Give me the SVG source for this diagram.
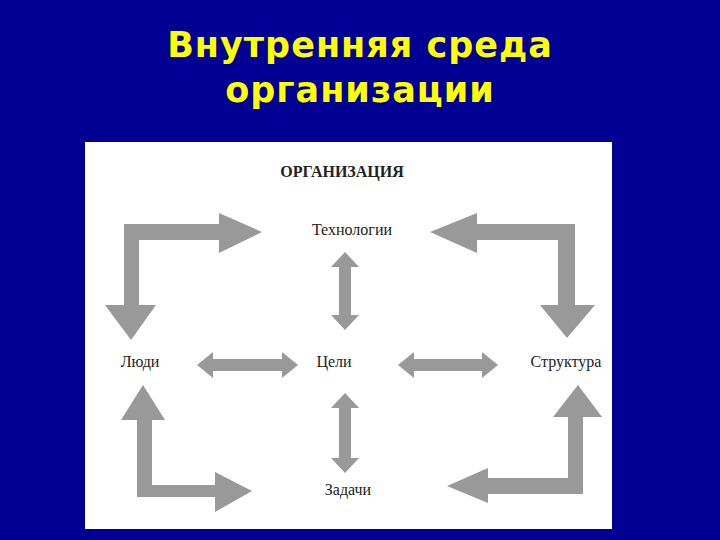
<svg xmlns="http://www.w3.org/2000/svg" width="720" height="540" viewBox="0 0 720 540">
<style>
.t{font-family:"DejaVu Sans",Verdana,sans-serif;font-weight:bold;font-size:35px;fill:#ffff00;text-anchor:middle;letter-spacing:1px}
.l{font-family:"Liberation Serif","Times New Roman",serif;font-size:16px;fill:#222;text-anchor:middle}
.a{fill:#999999}
</style>
<rect width="720" height="540" fill="#000093"/>
<text class="t" x="360" y="57">Внутренняя среда</text>
<text class="t" x="360" y="102">организации</text>
<rect x="85" y="142" width="527" height="387" fill="#ffffff"/>
<g id="labels">
<text class="l" x="342" y="177" font-weight="bold">ОРГАНИЗАЦИЯ</text>
<g id="tech"><text class="l" x="352" y="235">Технологии</text></g>
<g id="people"><text class="l" x="140" y="367">Люди</text></g>
<g id="goals"><text class="l" x="334" y="367">Цели</text></g>
<g id="structure"><text class="l" x="566" y="367">Структура</text></g>
<g id="tasks"><text class="l" x="348" y="495">Задачи</text></g>
</g>
<g id="connectors" class="a">
<polygon points="124,224 219,224 219,213 262,232 219,253 219,240 139,240 139,305 156,305 131,340 105,305 124,305"/>
<polygon points="575,224 477,224 477,213 430,232 477,253 477,240 558,240 558,305 540,305 567,338 595,305 575,305"/>
<polygon points="137,497 215,497 215,512 252,491 215,472 215,485 152,485 152,420 165,420 143,385 121,420 137,420"/>
<polygon points="583,494 488,494 488,503 447,486 488,468 488,478 568,478 568,417 553,417 578,385 602,417 583,417"/>
<polygon points="345,252 359,267 351,267 351,315 359,315 345,330 331,315 339,315 339,267 331,267"/>
<polygon points="345,393 359,408 351,408 351,458 359,458 345,473 331,458 339,458 339,408 331,408"/>
<polygon points="197,365 213,352 213,359 282,359 282,352 298,365 282,378 282,371 213,371 213,378"/>
<polygon points="398,365 414,352 414,359 482,359 482,352 498,365 482,378 482,371 414,371 414,378"/>
</g>
</svg>
